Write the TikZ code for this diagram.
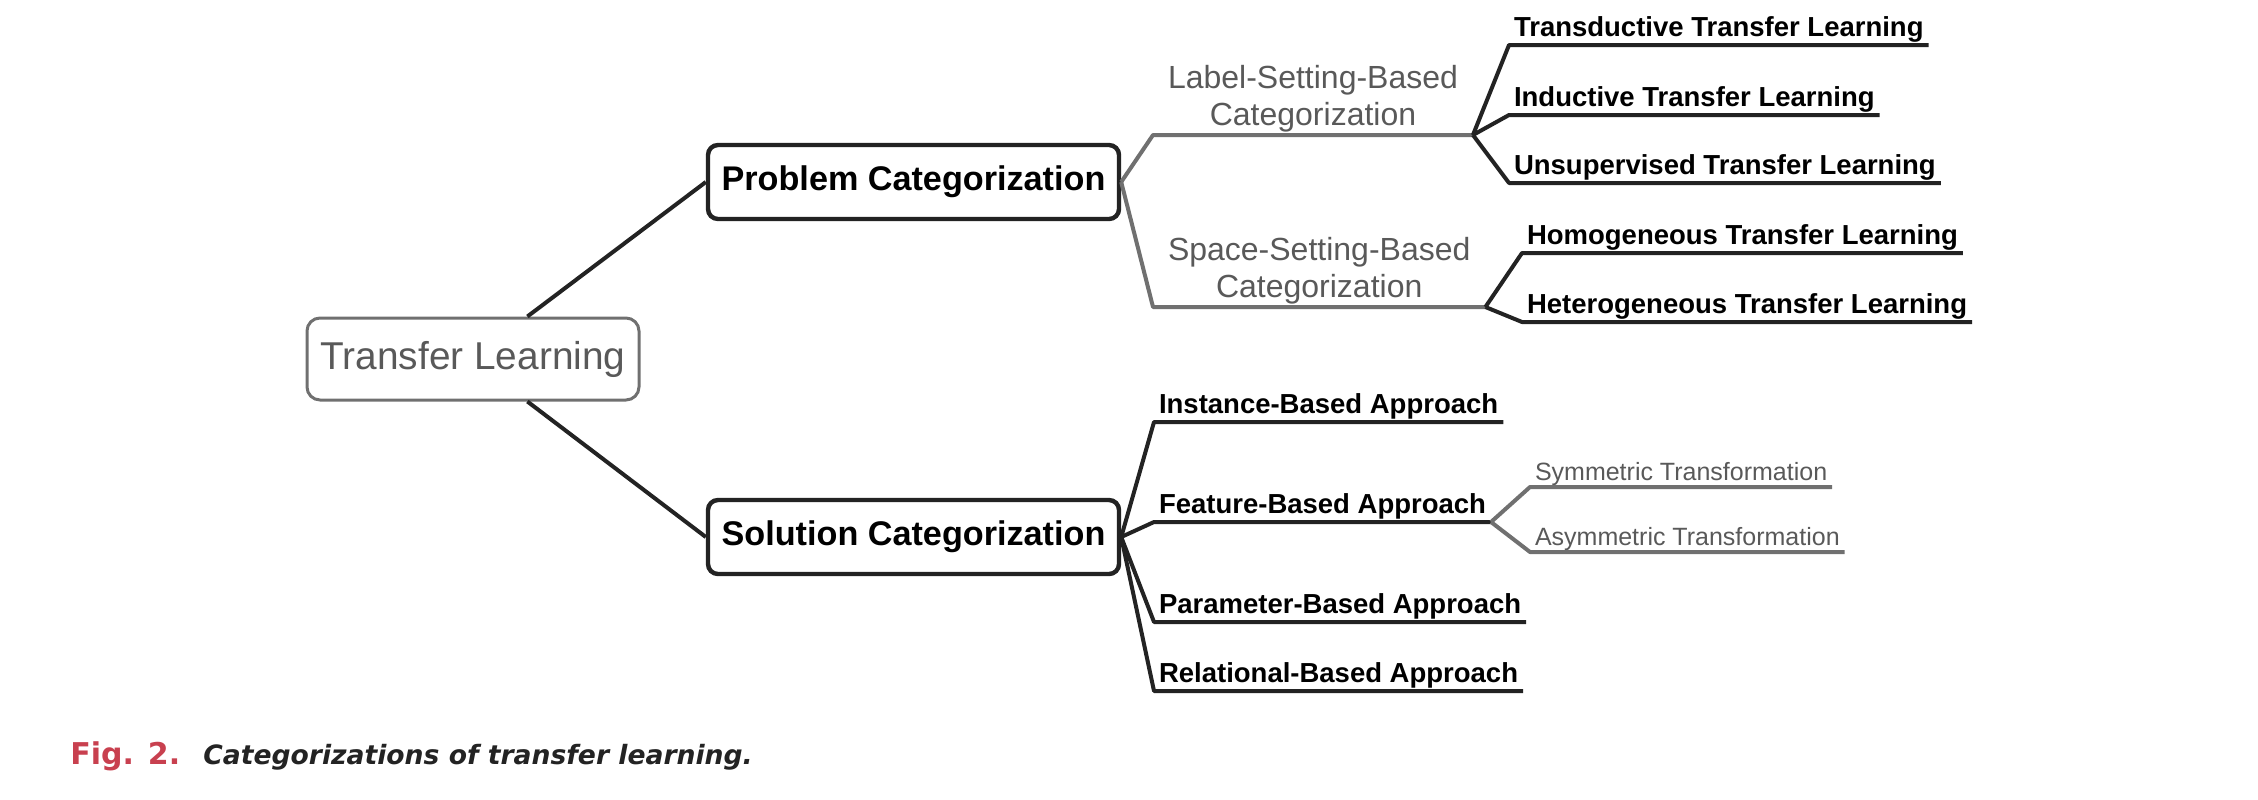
\documentclass[tikz,border=0pt]{standalone}
\usepackage{fontspec}
\setmainfont{Liberation Sans}
\newfontfamily\capfont{DejaVu Sans}
\usepackage{tikz}
\usetikzlibrary{positioning}

\definecolor{darkline}{HTML}{232323}
\definecolor{linegray}{HTML}{707070}
\definecolor{textgray}{HTML}{595959}
\definecolor{figred}{HTML}{C8404F}

\tikzset{
  rootbox/.style={draw=linegray, line width=1.5pt, rounded corners=6.5pt,
    minimum width=166pt, minimum height=41pt, text=textgray,
    font=\fontsize{19.4}{22}\selectfont},
  catbox/.style={draw=darkline, line width=2.2pt, rounded corners=5pt,
    minimum width=205.5pt, minimum height=37pt,
    font=\bfseries\fontsize{17.1}{20}\selectfont},
  setting/.style={anchor=south west, align=center, text=textgray, outer sep=0pt,
    inner xsep=7.5pt, inner ysep=1.2pt, font=\fontsize{16}{18.5}\selectfont},
  leaf/.style={anchor=south west, outer sep=0pt, inner xsep=2.5pt, inner ysep=1.5pt,
    text depth=3pt, font=\bfseries\fontsize{13.75}{16}\selectfont},
  subleaf/.style={anchor=south west, outer sep=0pt, inner xsep=2.5pt, inner ysep=0.8pt,
    text depth=2.6pt, text=textgray, font=\fontsize{12.5}{15}\selectfont},
  branch/.style={draw=darkline, line width=2pt, line join=round},
  graybranch/.style={draw=linegray, line width=2pt, line join=round}
}

\begin{document}
\begin{tikzpicture}[x=0.5pt, y=-0.5pt]
   \useasboundingbox (0,0) rectangle (2258,799);

   % main boxes
   \node[rootbox] (root) at (473,359) {Transfer Learning};
   \node[catbox] (problem) at (913.5,182) {Problem Categorization};
   \node[catbox] (solution) at (913.5,537) {Solution Categorization};

   % problem side
   \node[setting] (labelset) at (1153,135) {Label-Setting-Based\\Categorization};
   \node[setting] (spaceset) at (1153,307) {Space-Setting-Based\\Categorization};
   \node[leaf] (trans) at (1509,45) {Transductive Transfer Learning};
   \node[leaf] (induct) at (1509,115) {Inductive Transfer Learning};
   \node[leaf] (unsup) at (1509,183) {Unsupervised Transfer Learning};
   \node[leaf] (homo) at (1522,253) {Homogeneous Transfer Learning};
   \node[leaf] (hetero) at (1522,322) {Heterogeneous Transfer Learning};

   % solution side
   \node[leaf] (inst) at (1154,422) {Instance-Based Approach};
   \node[leaf] (feat) at (1154,522) {Feature-Based Approach};
   \node[leaf] (param) at (1154,622) {Parameter-Based Approach};
   \node[leaf] (relat) at (1154,691) {Relational-Based Approach};
   \node[subleaf] (sym) at (1530,487) {Symmetric Transformation};
   \node[subleaf] (asym) at (1530,552) {Asymmetric Transformation};

   \draw[branch] (root.38) -- (problem.west);
   \draw[branch] (root.-38) -- (solution.west);

   \draw[graybranch] (problem.east) -- (labelset.south west) -- (labelset.south east);
   \draw[graybranch] (problem.east) -- (spaceset.south west) -- (spaceset.south east);
   \foreach \leafname in {trans, induct, unsup}
      \draw[branch] (labelset.south east) -- (\leafname.south west) -- (\leafname.south east);
   \foreach \leafname in {homo, hetero}
      \draw[branch] (spaceset.south east) -- (\leafname.south west) -- (\leafname.south east);

   \foreach \leafname in {inst, feat, param, relat}
      \draw[branch] (solution.east) -- (\leafname.south west) -- (\leafname.south east);
   \foreach \leafname in {sym, asym}
      \draw[graybranch] (feat.south east) -- (\leafname.south west) -- (\leafname.south east);

   % caption
   \node[anchor=base west, inner sep=0pt, text=figred,
     font=\capfont\bfseries\fontsize{15}{18}\selectfont] (figlabel) at (70,764) {Fig. 2.};
   \node[anchor=base west, inner sep=0pt, text=darkline,
     font=\capfont\bfseries\itshape\fontsize{13.3}{16}\selectfont] (figcaption) at (203,764)
     {Categorizations of transfer learning.};
\end{tikzpicture}
\end{document}
